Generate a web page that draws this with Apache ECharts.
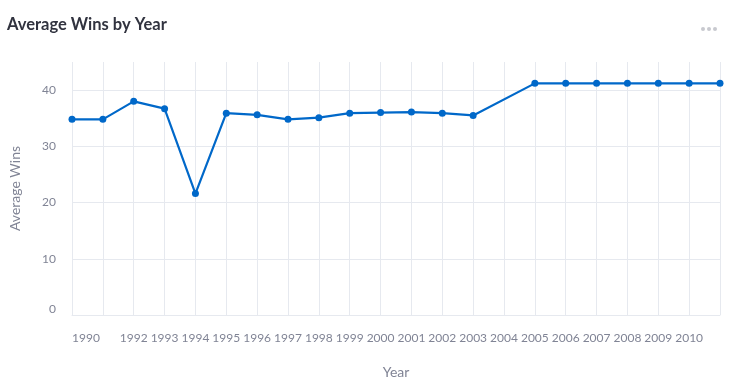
<!DOCTYPE html>
<html>
<head>
<meta charset="utf-8">
<script src="https://cdn.jsdelivr.net/npm/echarts@6/dist/echarts.min.js"></script>
<style>
html,body{margin:0;padding:0;background:#fff;}
#chart{width:736px;height:386px;}
</style>
</head>
<body>
<div id="chart"></div>
<script>
var years = [1990,1991,1992,1993,1994,1995,1996,1997,1998,1999,2000,2001,2002,2003,2005,2006,2007,2008,2009,2010,2011];
var avgWins = [34.8,34.8,38.0,36.7,21.6,35.9,35.6,34.8,35.1,35.9,36.0,36.1,35.9,35.5,41.2,41.2,41.2,41.2,41.2,41.2,41.2];
var hiddenYearLabels = [1991, 2011];
var yTicks = [0,10,20,30,40];

var FONT = 'Lato, "Open Sans", sans-serif';
var chart = echarts.init(document.getElementById('chart'), null, {renderer:'canvas'});
var data = years.map(function(y,i){return [y, avgWins[i]];});
chart.setOption({
  animation:false,
  title:{text:'Average Wins by Year', left:2, top:11,
    textStyle:{fontFamily:FONT, fontSize:16.5, fontWeight:'bold', color:'#31333F'}},
  graphic:[
    {type:'circle', shape:{cx:703,cy:29,r:2}, style:{fill:'#c8c9cf'}},
    {type:'circle', shape:{cx:709,cy:29,r:2}, style:{fill:'#c8c9cf'}},
    {type:'circle', shape:{cx:715,cy:29,r:2}, style:{fill:'#c8c9cf'}}
  ],
  grid:{left:71, right:16, top:62, bottom:71, containLabel:false},
  xAxis:{type:'value', min:1990, max:2011, interval:1,
    name:'Year', nameLocation:'middle', nameGap:50,
    nameTextStyle:{fontFamily:FONT, fontSize:14, color:'#808495'},
    axisLine:{show:true, lineStyle:{color:'#e6e9ef'}},
    axisTick:{show:false},
    splitLine:{show:true, lineStyle:{color:'#e6e9ef', width:1}},
    axisLabel:{fontFamily:FONT, fontSize:12, color:'#808495', margin:17,
      alignMinLabel:'left',
      formatter:function(v){return hiddenYearLabels.indexOf(v)>=0 ? '' : String(v);}}
  },
  yAxis:{type:'value', min:0, max:45, interval:10,
    name:'Average Wins', nameLocation:'middle', nameGap:50,
    nameTextStyle:{fontFamily:FONT, fontSize:14, color:'#808495'},
    axisLine:{show:false}, axisTick:{show:false},
    splitLine:{show:true, showMaxLine:false, lineStyle:{color:'#e6e9ef', width:1}},
    axisLabel:{fontFamily:FONT, fontSize:12, color:'#808495', margin:16,
      verticalAlignMinLabel:'bottom',
      formatter:function(v){return yTicks.indexOf(v)>=0 ? String(v) : '';}}
  },
  series:[{type:'line', data:data, color:'#0068C9',
    lineStyle:{width:2.2, color:'#0068C9'},
    symbol:'circle', symbolSize:7,
    itemStyle:{color:'#0068C9'}}]
});
</script>
</body>
</html>
